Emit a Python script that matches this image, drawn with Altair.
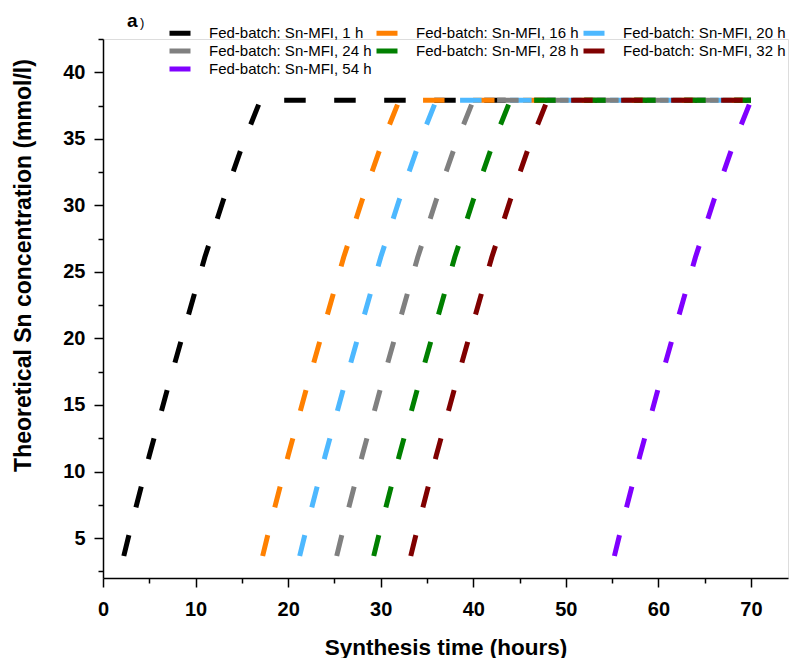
import altair as alt
import pandas as pd

series = [
    "Fed-batch: Sn-MFI, 1 h",
    "Fed-batch: Sn-MFI, 16 h",
    "Fed-batch: Sn-MFI, 20 h",
    "Fed-batch: Sn-MFI, 24 h",
    "Fed-batch: Sn-MFI, 28 h",
    "Fed-batch: Sn-MFI, 32 h",
    "Fed-batch: Sn-MFI, 54 h",
]
colors = ["#000000", "#FF8000", "#4DB8FF", "#808080", "#008000", "#800000", "#8000FF"]

# synthesis time (hours) for each series
time_1h = [1, 2, 3, 5, 7, 9, 11, 13, 15, 17, 70]
time_16h = [16, 17, 18, 20, 22, 24, 26, 28, 30, 32, 70]
time_20h = [20, 21, 22, 24, 26, 28, 30, 32, 34, 36, 70]
time_24h = [24, 25, 26, 28, 30, 32, 34, 36, 38, 40, 70]
time_28h = [28, 29, 30, 32, 34, 36, 38, 40, 42, 44, 70]
time_32h = [32, 33, 34, 36, 38, 40, 42, 44, 46, 48, 70]
time_54h = [54, 55, 56, 58, 60, 62, 64, 66, 68, 70]

# theoretical Sn concentration (mmol/l): ramp, then plateau
conc_1h = [0, 2.95, 5.8, 11.2, 16.3, 21.2, 26.1, 30.4, 34.4, 37.9, 37.9]
conc_16h = [0, 2.95, 5.8, 11.2, 16.3, 21.2, 26.1, 30.4, 34.4, 37.9, 37.9]
conc_20h = [0, 2.95, 5.8, 11.2, 16.3, 21.2, 26.1, 30.4, 34.4, 37.9, 37.9]
conc_24h = [0, 2.95, 5.8, 11.2, 16.3, 21.2, 26.1, 30.4, 34.4, 37.9, 37.9]
conc_28h = [0, 2.95, 5.8, 11.2, 16.3, 21.2, 26.1, 30.4, 34.4, 37.9, 37.9]
conc_32h = [0, 2.95, 5.8, 11.2, 16.3, 21.2, 26.1, 30.4, 34.4, 37.9, 37.9]
conc_54h = [0, 2.95, 5.8, 11.2, 16.3, 21.2, 26.1, 30.4, 34.4, 37.9]

times = [time_1h, time_16h, time_20h, time_24h, time_28h, time_32h, time_54h]
concs = [conc_1h, conc_16h, conc_20h, conc_24h, conc_28h, conc_32h, conc_54h]

rows = []
for k, (name, ts, cs) in enumerate(zip(series, times, concs)):
    for i, (t, c) in enumerate(zip(ts, cs)):
        rows.append({"series": name, "idx": i, "t": t, "c": c, "k": k})
df = pd.DataFrame(rows)

FONT = "Liberation Sans"

x_axis = alt.Axis(
    title="Synthesis time (hours)",
    values=list(range(0, 71, 5)),
    labelExpr="datum.value % 10 == 0 ? datum.label : ''",
    tickSize={"condition": {"test": "datum.value % 10 == 0", "value": 9}, "value": 5},
    tickColor="black",
    tickWidth=1.5,
    domainColor="black",
    domainWidth=1.5,
    grid=False,
    labelFont=FONT,
    labelFontSize=20,
    labelFontWeight="bold",
    labelColor="black",
    labelPadding=12,
    labelFlush=False,
    labelOverlap=False,
    titleFont=FONT,
    titleFontSize=22.5,
    titleFontWeight="bold",
    titleColor="black",
    titlePadding=17,
)
y_axis = alt.Axis(
    title="Theoretical Sn concentration (mmol/l)",
    values=[2.5 * i for i in range(1, 18)],
    labelExpr="datum.value % 5 == 0 ? datum.label : ''",
    tickSize={"condition": {"test": "datum.value % 5 == 0", "value": 9}, "value": 5},
    tickColor="black",
    tickWidth=1.5,
    domainColor="black",
    domainWidth=1.5,
    grid=False,
    labelFont=FONT,
    labelFontSize=20,
    labelFontWeight="bold",
    labelColor="black",
    labelPadding=9,
    labelFlush=False,
    labelOverlap=False,
    titleFont=FONT,
    titleFontSize=23,
    titleFontWeight="bold",
    titleColor="black",
    titlePadding=27,
    titleY=226,
)

lines = alt.Chart(df).mark_line(
    strokeWidth=5, strokeDash=[21.5, 28.5], strokeCap="butt", clip=True
).encode(
    x=alt.X("t:Q", scale=alt.Scale(domain=[0, 74], nice=False, zero=False), axis=x_axis),
    y=alt.Y("c:Q", scale=alt.Scale(domain=[2, 42.5], nice=False, zero=False), axis=y_axis),
    color=alt.Color(
        "series:N",
        sort=series,
        scale=alt.Scale(domain=series, range=colors),
        legend=alt.Legend(
            title=None,
            orient="none",
            direction="horizontal",
            legendX=64,
            legendY=-18.7,
            columns=3,
            gridAlign="none",
            symbolType="stroke",
            symbolSize=441,
            symbolStrokeWidth=5,
            symbolDash=[1, 0],
            labelFont=FONT,
            labelFontSize=15,
            labelColor="black",
            labelOffset=16,
            columnPadding=-6,
            rowPadding=-5.2,
            padding=0,
            labelLimit=300,
        ),
    ),
    order=alt.Order("idx:Q"),
    detail="k:N",
)

label_a = alt.Chart(pd.DataFrame({"s": ["a"]})).mark_text(
    font=FONT, fontSize=19, fontWeight="bold", align="left", baseline="alphabetic", color="black"
).encode(text="s:N", x=alt.value(24), y=alt.value(-12))
label_p = alt.Chart(pd.DataFrame({"s": [")"]})).mark_text(
    font=FONT, fontSize=13, align="left", baseline="alphabetic", color="black"
).encode(text="s:N", x=alt.value(37), y=alt.value(-12))

chart = alt.layer(lines, label_a, label_p).properties(
    width=685,
    height=539,
    autosize=alt.AutoSizeParams(type="none"),
    padding={"left": 95, "top": 31, "right": 2, "bottom": 80},
).configure_view(stroke=None).configure(background="white")

chart.save("out.html", embed_options={"renderer": "svg", "actions": False})
